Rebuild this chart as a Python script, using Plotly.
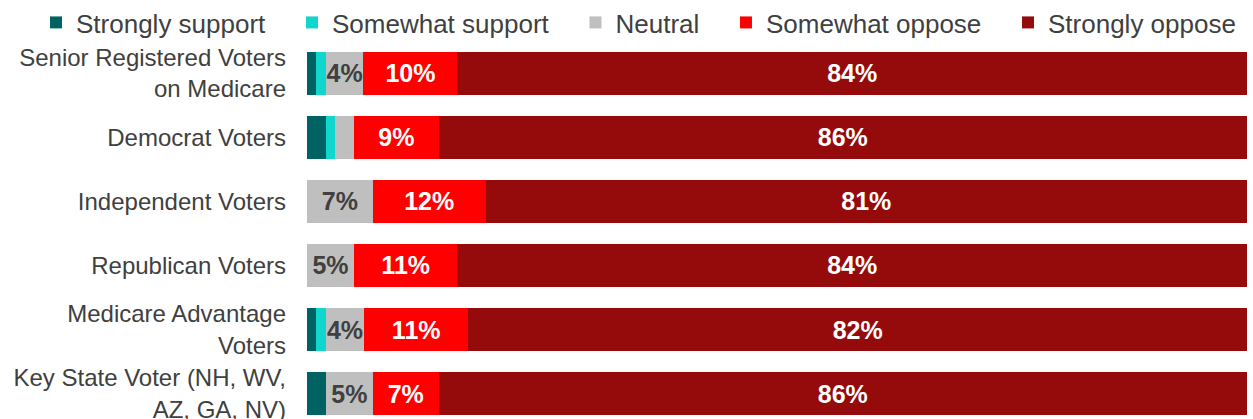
import plotly.graph_objects as go

categories = [
    "Senior Registered Voters<br>on Medicare",
    "Democrat Voters",
    "Independent Voters",
    "Republican Voters",
    "Medicare Advantage<br>Voters",
    "Key State Voter (NH, WV,<br>AZ, GA, NV)",
]
series_names = ["Strongly support", "Somewhat support", "Neutral", "Somewhat oppose", "Strongly oppose"]
strongly_support = [1, 2, 0, 0, 1, 2]
somewhat_support = [1, 1, 0, 0, 1, 0]
neutral = [4, 2, 7, 5, 4, 5]
somewhat_oppose = [10, 9, 12, 11, 11, 7]
strongly_oppose = [84, 86, 81, 84, 82, 86]

colors = ["#006262", "#10D6CE", "#BFBFBF", "#FF0000", "#950A0A"]
label_colors = ["#404040", "#404040", "#404040", "#FFFFFF", "#FFFFFF"]
label_min = [101, 101, 4, 0, 0]  # only label segments this large or larger

values = [strongly_support, somewhat_support, neutral, somewhat_oppose, strongly_oppose]

W, H = 1253, 419
ML, MR, MT, MB = 307, 6, 40.5, 0
plot_w = W - ML - MR
plot_h = H - MT - MB

fig = go.Figure()
n_series = len(series_names)
for i, (name, vals, col, lcol, lmin) in enumerate(zip(series_names, values, colors, label_colors, label_min)):
    texts = [f"{v}%" if (v >= lmin and v > 0) else "" for v in vals]
    pad = "\u00a0\u00a0\u00a0" if i < n_series - 1 else ""
    fig.add_trace(go.Bar(
        name=name + pad, y=categories, x=vals, orientation="h",
        marker=dict(color=col, line=dict(width=0)),
        text=texts, textposition="inside", insidetextanchor="middle",
        textangle=0,
        textfont=dict(family="Liberation Sans", size=25, color=lcol, weight="bold"),
        hoverinfo="skip",
    ))

fig.update_layout(
    barmode="stack", barnorm="percent", bargap=0.33,
    width=W, height=H,
    margin=dict(l=ML, r=MR, t=MT, b=MB, pad=0, autoexpand=False),
    paper_bgcolor="white", plot_bgcolor="white",
    font=dict(family="Liberation Sans", color="#404040"),
    uniformtext=dict(mode="show", minsize=25),
    showlegend=True,
    legend=dict(
        orientation="h", xref="paper", yref="paper",
        x=(36 - ML) / plot_w, xanchor="left",
        y=1 + (MT - 22) / plot_h, yanchor="middle",
        font=dict(family="Liberation Sans", size=26, color="#404040"),
        traceorder="normal", itemclick=False, itemdoubleclick=False,
        bgcolor="rgba(0,0,0,0)",
    ),
    xaxis=dict(range=[0, 100], visible=False, fixedrange=True),
    yaxis=dict(
        categoryorder="array", categoryarray=categories,
        range=[-0.5 + plot_h / 64.2, -0.5], showgrid=False, zeroline=False, showline=False,
        ticks="", ticklabelstandoff=20, automargin=False,
        tickfont=dict(family="Liberation Sans", size=24, color="#404040"),
        fixedrange=True,
    ),
)

fig.write_html(
    "out.html",
    config={"displayModeBar": False, "staticPlot": True},
    post_script="document.body.style.margin='0';document.body.style.overflow='hidden';",
)
